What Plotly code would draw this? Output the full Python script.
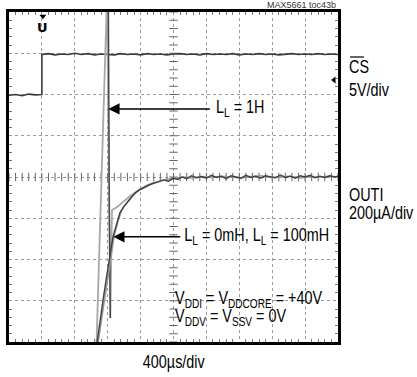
import numpy as np
import plotly.graph_objects as go

# ---- time base: divisions (400us/div), 10 divisions across, 8 vertical ----
# CS (5V/div) trace
cs_t = [0.0, 0.2, 0.4, 0.6, 0.8, 1.0, 1.0, 1.2, 1.4, 1.6, 1.8, 2.0, 2.2, 2.4, 2.6,
        2.8, 3.0, 3.2, 3.4, 3.6, 3.8, 4.0, 4.2, 4.4, 4.6, 4.8, 5.0, 5.2, 5.4, 5.6,
        5.8, 6.0, 6.2, 6.4, 6.6, 6.8, 7.0, 7.2, 7.4, 7.6, 7.8, 8.0, 8.2, 8.4, 8.6,
        8.8, 9.0, 9.2, 9.4, 9.6, 9.8, 10.0]
cs_v = [5.98, 6.0, 5.97, 6.01, 5.99, 6.0, 6.97, 6.99, 6.96, 6.98, 6.97, 7.0, 6.97,
        6.99, 6.96, 6.98, 6.97, 6.96, 6.99, 6.97, 6.98, 6.96, 6.99, 6.97, 6.98,
        6.96, 6.98, 6.99, 6.97, 6.98, 6.96, 6.99, 6.97, 6.98, 6.97, 6.99, 6.96,
        6.98, 6.97, 6.99, 6.97, 6.98, 6.96, 6.98, 6.99, 6.97, 6.98, 6.97, 6.99,
        6.97, 6.98, 6.97]

# OUTI (200uA/div), LL = 0mH
i0_t = [2.67, 2.76, 2.86, 2.96, 3.07, 3.16, 3.28, 3.37, 3.48, 3.59, 3.71, 3.83,
        3.98, 4.13, 4.33, 4.53, 4.7, 4.85, 5.0, 5.13, 5.26, 5.4, 5.55, 5.7, 5.85,
        6.0, 6.15, 6.3, 6.45, 6.6, 6.75, 6.9, 7.05, 7.2, 7.35, 7.5, 7.65, 7.8,
        7.95, 8.1, 8.25, 8.4, 8.55, 8.7, 8.85, 9.0, 9.15, 9.3, 9.45, 9.6, 9.75,
        9.9, 10.0]
i0_v = [-0.05, 0.5, 1.02, 1.55, 2.11, 2.55, 2.88, 3.13, 3.27, 3.37, 3.5, 3.61,
        3.7, 3.76, 3.83, 3.88, 3.93, 3.9, 3.97, 3.94, 4.0, 3.96, 4.03, 3.98,
        4.01, 3.97, 4.04, 3.99, 4.02, 3.96, 4.03, 4.0, 3.97, 4.04, 3.99, 4.02,
        3.97, 4.03, 4.0, 3.98, 4.05, 3.99, 4.02, 3.97, 4.03, 4.0, 4.04, 3.98,
        4.02, 3.99, 4.03, 4.0, 4.02]

# OUTI, LL = 100mH
i100_t = [2.7, 2.8, 2.9, 3.0, 3.1, 3.2, 3.32, 3.42, 3.53, 3.65, 3.77, 3.9,
          4.05, 4.2, 4.4, 4.6, 4.85, 5.05, 5.3, 5.55, 5.85, 6.15, 6.45, 6.75,
          7.05, 7.35, 7.65, 7.95, 8.25, 8.55, 8.85, 9.15, 9.45, 9.75, 10.0]
i100_v = [-0.05, 0.5, 1.05, 1.6, 2.15, 2.6, 2.95, 3.18, 3.33, 3.45, 3.56, 3.66,
          3.74, 3.8, 3.86, 3.9, 3.95, 3.97, 4.0, 3.98, 4.01, 3.99, 4.02, 4.0,
          3.98, 4.01, 4.03, 3.99, 4.0, 4.02, 3.98, 4.01, 4.0, 4.02, 4.0]

# OUTI, LL = 1H: spike off-screen, fall, undershoot, then settle
i1h_t = [2.66, 2.98, 3.02, 3.05, 3.08, 3.13, 3.3, 3.5, 3.7, 3.95, 4.2]
i1h_v = [-0.05, 8.4, 8.4, 3.1, 0.58, 3.2, 3.28, 3.42, 3.55, 3.68, 3.78]

FONT = "Liberation Sans, Arial, sans-serif"
LABEL_SIZE = 18       # labels are drawn narrow (see post script)

# figure geometry (graticule box in page pixels)
W, H = 417, 377
L, R, T, B = 9, 338, 12, 342


def px(x):
    return (x - L) / (R - L)


def py(y):
    return (B - y) / (B - T)


fig = go.Figure()

# center graticule with minor tick marks
cx = np.round(np.arange(0, 10.01, 0.2), 2)
cy = np.round(np.arange(0, 8.01, 0.2), 2)
fig.add_trace(go.Scatter(x=cx, y=[4] * len(cx), mode="markers",
                         marker=dict(symbol="line-ns", size=6, line=dict(width=1, color="#666")),
                         hoverinfo="skip", showlegend=False))
fig.add_trace(go.Scatter(x=[5] * len(cy), y=cy, mode="markers",
                         marker=dict(symbol="line-ew", size=6, line=dict(width=1, color="#666")),
                         hoverinfo="skip", showlegend=False))

# traces
fig.add_trace(go.Scatter(x=cs_t, y=cs_v, mode="lines",
                         line=dict(color="#3a3a3a", width=1.6), showlegend=False))
fig.add_trace(go.Scatter(x=i1h_t[:2] + i1h_t[3:], y=i1h_v[:2] + i1h_v[3:], mode="lines",
                         line=dict(color="#a8a8a8", width=1.8), showlegend=False))
fig.add_trace(go.Scatter(x=i1h_t[1:5], y=i1h_v[1:5], mode="lines",
                         line=dict(color="#444", width=1.4), showlegend=False))
fig.add_trace(go.Scatter(x=i100_t, y=i100_v, mode="lines",
                         line=dict(color="#9a9a9a", width=1.6), showlegend=False))
fig.add_trace(go.Scatter(x=i0_t, y=i0_v, mode="lines",
                         line=dict(color="#3f3f3f", width=1.4), showlegend=False))

# trigger and ground markers
fig.add_trace(go.Scatter(x=[1.03], y=[7.9], mode="markers",
                         marker=dict(symbol="triangle-down", size=6, color="black"),
                         showlegend=False))
fig.add_trace(go.Scatter(x=[9.88], y=[6.35], mode="markers",
                         marker=dict(symbol="triangle-left", size=6, color="black"),
                         showlegend=False))
fig.add_annotation(x=1.03, y=7.63, text="<b>U</b>", showarrow=False,
                   font=dict(family="DejaVu Sans", size=13, color="black"))

# arrows
fig.add_annotation(x=3.02, y=5.65, ax=6.15, ay=5.65, xref="x", yref="y",
                   axref="x", ayref="y", text="", showarrow=True,
                   arrowhead=2, arrowsize=1.6, arrowwidth=1.4, arrowcolor="black")
fig.add_annotation(x=3.17, y=2.55, ax=5.25, ay=2.55, xref="x", yref="y",
                   axref="x", ayref="y", text="", showarrow=True,
                   arrowhead=2, arrowsize=1.6, arrowwidth=1.4, arrowcolor="black")

txt = dict(family=FONT, size=LABEL_SIZE, color="black")
fig.add_annotation(x=6.22, y=5.65, text="L<sub>L</sub> = 1H", showarrow=False,
                   xanchor="left", font=txt)
fig.add_annotation(x=9.79, y=2.55, text="L<sub>L</sub> = 0mH, L<sub>L</sub> = 100mH",
                   showarrow=False, xanchor="right", font=txt)
fig.add_annotation(x=4.98, y=1.03, text="V<sub>DDI</sub> = V<sub>DDCORE</sub> = +40V",
                   showarrow=False, xanchor="left", font=txt)
fig.add_annotation(x=4.98, y=0.6, text="V<sub>DDV</sub> = V<sub>SSV</sub> = 0V",
                   showarrow=False, xanchor="left", font=txt)

# labels outside the graticule
for label, yy in [("CS", 67), ("5V/div", 90), ("OUTI", 195), ("200µA/div", 213)]:
    fig.add_annotation(x=px(347), y=py(yy), xref="paper", yref="paper", text=label,
                       showarrow=False, xanchor="left", yanchor="middle", font=txt)
fig.add_annotation(x=px(173), y=py(362), xref="paper", yref="paper", text="400µs/div",
                   showarrow=False, xanchor="center", yanchor="middle", font=txt)
fig.add_annotation(x=px(338), y=py(5), xref="paper", yref="paper", text="MAX5661 toc43b",
                   showarrow=False, xanchor="right", yanchor="middle",
                   font=dict(family=FONT, size=9, color="#333"))

# overline of the CS label
fig.add_shape(type="line", xref="paper", yref="paper",
              x0=px(350), x1=px(364), y0=py(57), y1=py(57),
              line=dict(color="black", width=1.2))

fig.update_layout(
    width=W, height=H,
    margin=dict(l=L, r=W - R, t=T, b=H - B),
    paper_bgcolor="white", plot_bgcolor="white",
    xaxis=dict(range=[0, 10], dtick=1, showgrid=True, griddash="dot",
               gridcolor="#9a9a9a", gridwidth=1, zeroline=False,
               showticklabels=False, ticks="inside", ticklen=0,
               minor=dict(dtick=0.2, ticks="inside", ticklen=3, tickcolor="#777"),
               showline=True, linecolor="black", linewidth=2.5, mirror="allticks"),
    yaxis=dict(range=[0, 8], dtick=1, showgrid=True, griddash="dot",
               gridcolor="#9a9a9a", gridwidth=1, zeroline=False,
               showticklabels=False, ticks="inside", ticklen=0,
               minor=dict(dtick=0.2, ticks="inside", ticklen=3, tickcolor="#777"),
               showline=True, linecolor="black", linewidth=2.5, mirror="allticks"),
)

# condensed lettering: squeeze the large labels horizontally about their anchor
squeeze_js = """
var gd = document.getElementById('{plot_id}');
function squeezeLabels() {
  var anns = (gd.layout && gd.layout.annotations) || [];
  gd.querySelectorAll('g.annotation').forEach(function (g) {
    var i = +g.getAttribute('data-index');
    var a = anns[i];
    if (!a || !a.font || a.font.size !== %d) return;
    var t = g.querySelector('text.annotation-text');
    if (!t) return;
    var bb = t.getBBox();
    var pivot = bb.x;
    if (a.xanchor === 'center') pivot = bb.x + bb.width / 2;
    if (a.xanchor === 'right') pivot = bb.x + bb.width;
    t.setAttribute('transform', 'translate(' + pivot + ',0) scale(0.8,1) translate(' + (-pivot) + ',0)');
  });
}
squeezeLabels();
gd.on('plotly_afterplot', squeezeLabels);
setTimeout(squeezeLabels, 50);
""" % LABEL_SIZE

fig.write_html("out.html", post_script=squeeze_js)
